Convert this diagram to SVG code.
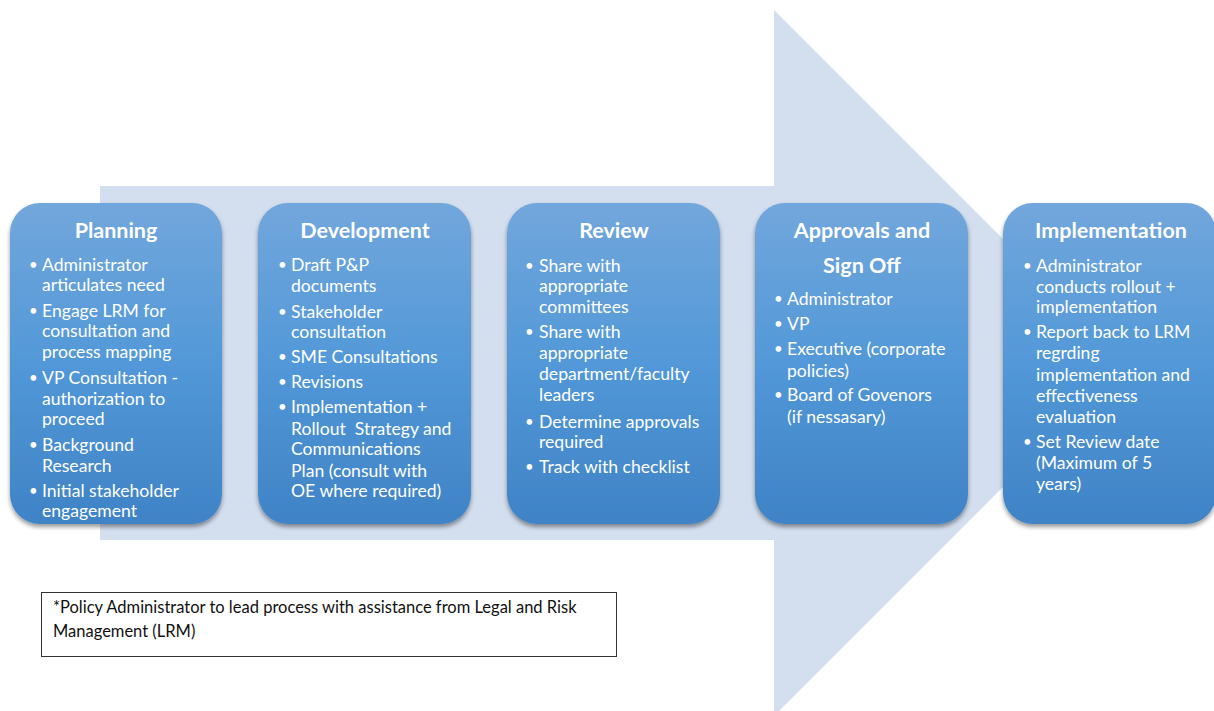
<svg xmlns="http://www.w3.org/2000/svg" width="1214" height="711" viewBox="0 0 1214 711">
  <style>
    .bg { fill: #ffffff; }
    .flow { fill: #d3deee; }
    .box { fill: url(#boxGrad); filter: url(#boxShadow); }
    .title { font-family: Lato, "Open Sans", sans-serif; font-weight: bold; font-size: 21.5px; fill: #ffffff; text-anchor: middle; }
    .item { font-family: Lato, "Open Sans", sans-serif; font-size: 17.6px; fill: #ffffff; }
    .dot { font-family: Lato, "Open Sans", sans-serif; font-size: 15px; fill: #ffffff; }
    .note-box { fill: #ffffff; stroke: #333333; stroke-width: 1; }
    .note { font-family: Lato, "Open Sans", sans-serif; font-size: 16.5px; fill: #111111; }
  </style>
  <defs>
    <linearGradient id="boxGrad" x1="0" y1="0" x2="0" y2="1">
      <stop offset="0" stop-color="#72a7dc"/>
      <stop offset="0.5" stop-color="#5298d8"/>
      <stop offset="1" stop-color="#3f83c6"/>
    </linearGradient>
    <filter id="boxShadow" x="-10%" y="-10%" width="120%" height="125%">
      <feDropShadow dx="0" dy="3" stdDeviation="2" flood-color="#000000" flood-opacity="0.4"/>
    </filter>
  </defs>

  <rect class="bg" x="0" y="0" width="1214" height="711"/>

  <!-- broad process arrow behind the stages -->
  <g id="connectors">
    <polygon class="flow" points="100,186 774,186 774,10 1127,363 774,716 774,540 100,540"/>
  </g>

  <g id="planning">
    <rect class="box" x="10" y="203" width="212" height="321" rx="30" ry="30"/>
    <text class="title" x="116" y="238">Planning</text>
    <text class="dot" x="29" y="270">•</text>
    <text class="item" x="42" y="271">Administrator</text>
    <text class="item" x="42" y="291">articulates need</text>
    <text class="dot" x="29" y="316">•</text>
    <text class="item" x="42" y="317">Engage LRM for</text>
    <text class="item" x="42" y="337">consultation and</text>
    <text class="item" x="42" y="358">process mapping</text>
    <text class="dot" x="29" y="383">•</text>
    <text class="item" x="42" y="384">VP Consultation -</text>
    <text class="item" x="42" y="405">authorization to</text>
    <text class="item" x="42" y="425">proceed</text>
    <text class="dot" x="29" y="450">•</text>
    <text class="item" x="42" y="451">Background</text>
    <text class="item" x="42" y="472">Research</text>
    <text class="dot" x="29" y="496">•</text>
    <text class="item" x="42" y="497">Initial stakeholder</text>
    <text class="item" x="42" y="517">engagement</text>
  </g>

  <g id="development">
    <rect class="box" x="258" y="203" width="213" height="321" rx="30" ry="30"/>
    <text class="title" x="365" y="238">Development</text>
    <text class="dot" x="278" y="270">•</text>
    <text class="item" x="291" y="271">Draft P&amp;P</text>
    <text class="item" x="291" y="292">documents</text>
    <text class="dot" x="278" y="317">•</text>
    <text class="item" x="291" y="318">Stakeholder</text>
    <text class="item" x="291" y="338">consultation</text>
    <text class="dot" x="278" y="362">•</text>
    <text class="item" x="291" y="363">SME Consultations</text>
    <text class="dot" x="278" y="387">•</text>
    <text class="item" x="291" y="388">Revisions</text>
    <text class="dot" x="278" y="412">•</text>
    <text class="item" x="291" y="413">Implementation +</text>
    <text class="item" x="291" y="435" xml:space="preserve">Rollout  Strategy and</text>
    <text class="item" x="291" y="455">Communications</text>
    <text class="item" x="291" y="477">Plan (consult with</text>
    <text class="item" x="291" y="497">OE where required)</text>
  </g>

  <g id="review">
    <rect class="box" x="507" y="203" width="213" height="321" rx="30" ry="30"/>
    <text class="title" x="614" y="238">Review</text>
    <text class="dot" x="525" y="271">•</text>
    <text class="item" x="539" y="272">Share with</text>
    <text class="item" x="539" y="292">appropriate</text>
    <text class="item" x="539" y="313">committees</text>
    <text class="dot" x="525" y="337">•</text>
    <text class="item" x="539" y="338">Share with</text>
    <text class="item" x="539" y="359">appropriate</text>
    <text class="item" x="539" y="380">department/faculty</text>
    <text class="item" x="539" y="401">leaders</text>
    <text class="dot" x="525" y="427">•</text>
    <text class="item" x="539" y="428">Determine approvals</text>
    <text class="item" x="539" y="448">required</text>
    <text class="dot" x="525" y="472">•</text>
    <text class="item" x="539" y="473">Track with checklist</text>
  </g>

  <g id="approvals">
    <rect class="box" x="755" y="203" width="213" height="321" rx="30" ry="30"/>
    <text class="title" x="862" y="238">Approvals and</text>
    <text class="title" x="862" y="273">Sign Off</text>
    <text class="dot" x="774" y="304">•</text>
    <text class="item" x="787" y="305">Administrator</text>
    <text class="dot" x="774" y="329">•</text>
    <text class="item" x="787" y="330">VP</text>
    <text class="dot" x="774" y="354">•</text>
    <text class="item" x="787" y="355">Executive (corporate</text>
    <text class="item" x="787" y="377">policies)</text>
    <text class="dot" x="774" y="400">•</text>
    <text class="item" x="787" y="401">Board of Govenors</text>
    <text class="item" x="787" y="423">(if nessasary)</text>
  </g>

  <g id="implementation">
    <rect class="box" x="1003" y="203" width="213" height="321" rx="30" ry="30"/>
    <text class="title" x="1111" y="238">Implementation</text>
    <text class="dot" x="1023" y="271">•</text>
    <text class="item" x="1036" y="272">Administrator</text>
    <text class="item" x="1036" y="293">conducts rollout +</text>
    <text class="item" x="1036" y="313">implementation</text>
    <text class="dot" x="1023" y="337">•</text>
    <text class="item" x="1036" y="338">Report back to LRM</text>
    <text class="item" x="1036" y="359">regrding</text>
    <text class="item" x="1036" y="381">implementation and</text>
    <text class="item" x="1036" y="402">effectiveness</text>
    <text class="item" x="1036" y="423">evaluation</text>
    <text class="dot" x="1023" y="447">•</text>
    <text class="item" x="1036" y="448">Set Review date</text>
    <text class="item" x="1036" y="469">(Maximum of 5</text>
    <text class="item" x="1036" y="490">years)</text>
  </g>

  <g id="note">
    <rect class="note-box" x="41.5" y="592.5" width="575" height="64"/>
    <text class="note" x="53" y="613">*Policy Administrator to lead process with assistance from Legal and Risk</text>
    <text class="note" x="53" y="637">Management (LRM)</text>
  </g>
</svg>
